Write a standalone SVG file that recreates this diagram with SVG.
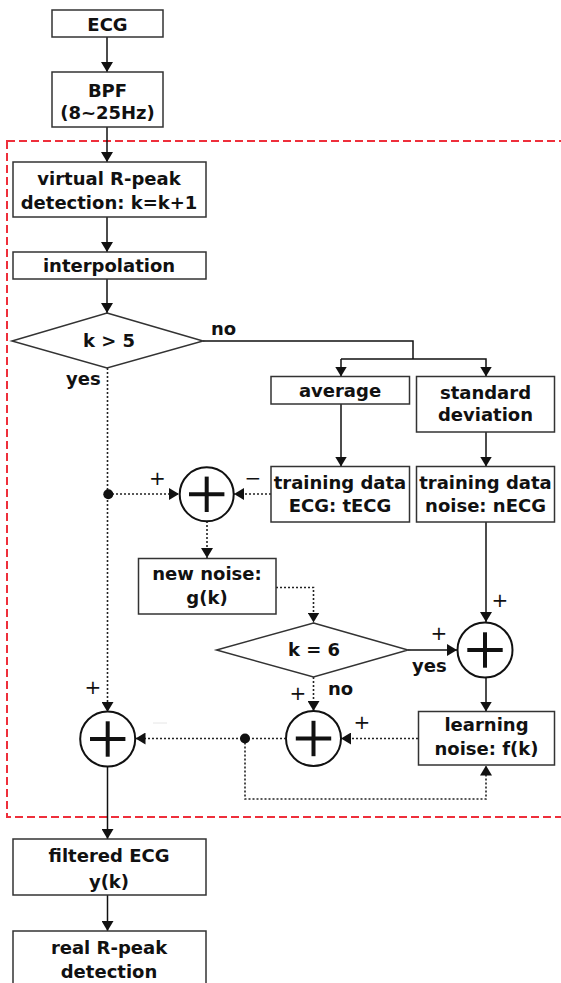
<svg xmlns="http://www.w3.org/2000/svg" width="561" height="983" viewBox="0 0 561 983">
<style>
.box{fill:#fff;stroke:#333;stroke-width:1.5}
.t{font-family:"DejaVu Sans",Verdana,sans-serif;font-weight:bold;font-size:18px;fill:#111;text-anchor:middle}
.lbl{font-family:"DejaVu Sans",Verdana,sans-serif;font-weight:bold;font-size:18px;fill:#111}
.pm{font-family:"DejaVu Sans",sans-serif;font-size:20px;fill:#111;text-anchor:middle}
.sol{fill:none;stroke:#111;stroke-width:1.5}
.dot{fill:none;stroke:#222;stroke-width:1.6;stroke-dasharray:2 2}
.sum{fill:#fff;stroke:#111;stroke-width:2}
.plus{stroke:#111;stroke-width:4}
</style>
<defs>
<marker id="ah" viewBox="0 0 10 12" refX="10" refY="6" markerWidth="10" markerHeight="12" markerUnits="userSpaceOnUse" orient="auto">
<path d="M0,0 L10,6 L0,12 z" fill="#111"/>
</marker>
</defs>
<rect x="7" y="141" width="570" height="676" fill="none" stroke="#ee2f3b" stroke-width="2" stroke-dasharray="8 4"/>
<g id="connectors">
<line class="sol" x1="107" y1="37" x2="107" y2="72" marker-end="url(#ah)"/>
<line class="sol" x1="107" y1="127" x2="107" y2="162" marker-end="url(#ah)"/>
<line class="sol" x1="107" y1="217" x2="107" y2="252" marker-end="url(#ah)"/>
<line class="sol" x1="107" y1="279" x2="107" y2="313" marker-end="url(#ah)"/>
<polyline class="sol" points="203,341 413,341 413,359"/>
<polyline class="sol" points="341,359 486,359 486,376.5" marker-end="url(#ah)"/>
<line class="sol" x1="341" y1="359" x2="341" y2="376.5" marker-end="url(#ah)"/>
<line class="sol" x1="341" y1="404" x2="341" y2="466.5" marker-end="url(#ah)"/>
<line class="sol" x1="486" y1="432" x2="486" y2="466.5" marker-end="url(#ah)"/>
<line class="dot" x1="107.5" y1="368" x2="107.5" y2="712" marker-end="url(#ah)"/>
<line class="dot" x1="108" y1="494" x2="179" y2="494" marker-end="url(#ah)"/>
<line class="dot" x1="271" y1="494" x2="234" y2="494" marker-end="url(#ah)"/>
<line class="dot" x1="207" y1="521" x2="207" y2="558" marker-end="url(#ah)"/>
<polyline class="dot" points="276,587.5 313.5,587.5 313.5,622.5" marker-end="url(#ah)"/>
<line class="sol" x1="486" y1="522" x2="486" y2="622" marker-end="url(#ah)"/>
<line class="sol" x1="408" y1="650" x2="457" y2="650" marker-end="url(#ah)"/>
<line class="sol" x1="486" y1="678" x2="486" y2="711.5" marker-end="url(#ah)"/>
<line class="dot" x1="313.5" y1="677" x2="313.5" y2="711" marker-end="url(#ah)"/>
<line class="dot" x1="418" y1="738.5" x2="341" y2="738.5" marker-end="url(#ah)"/>
<line class="dot" x1="286" y1="738.5" x2="135.5" y2="738.5" marker-end="url(#ah)"/>
<polyline class="dot" points="245,738.5 245,799 486,799 486,765.5" marker-end="url(#ah)"/>
<line class="sol" x1="107.5" y1="767" x2="107.5" y2="839" marker-end="url(#ah)"/>
<line class="sol" x1="107.5" y1="895" x2="107.5" y2="931" marker-end="url(#ah)"/>
<circle cx="108.3" cy="494.3" r="5" fill="#111"/>
<circle cx="245" cy="738.5" r="5" fill="#111"/>
<line x1="153" y1="723" x2="167" y2="723" stroke="#e6e6e6" stroke-width="1"/>
</g>
<g id="ecg"><rect class="box" x="52" y="10" width="111" height="27"/><text class="t" x="107.5" y="30.5">ECG</text></g>
<g id="bpf"><rect class="box" x="52" y="72" width="111" height="55"/><text class="t" x="107.5" y="96.5">BPF</text><text class="t" x="107.5" y="118.5">(8~25Hz)</text></g>
<g id="virtual"><rect class="box" x="13" y="162" width="193" height="55"/><text class="t" x="109" y="185">virtual R-peak</text><text class="t" x="109" y="209">detection: k=k+1</text></g>
<g id="interp"><rect class="box" x="13" y="252" width="193" height="27"/><text class="t" x="109" y="271.5">interpolation</text></g>
<g id="k5"><polygon class="box" points="107,313 203,341 107,368 12,341"/><text class="t" x="109" y="347">k &gt; 5</text></g>
<text class="lbl" x="211" y="335">no</text>
<text class="lbl" x="66" y="385">yes</text>
<g id="average"><rect class="box" x="271" y="376.5" width="138.5" height="27.5"/><text class="t" x="340" y="396.5">average</text></g>
<g id="std"><rect class="box" x="416.5" y="376.5" width="138" height="55.5"/><text class="t" x="485.5" y="399">standard</text><text class="t" x="485.5" y="421">deviation</text></g>
<g id="tecg"><rect class="box" x="271" y="466.5" width="138.5" height="55.5"/><text class="t" x="340" y="488.5">training data</text><text class="t" x="340" y="512">ECG: tECG</text></g>
<g id="necg"><rect class="box" x="416.5" y="466.5" width="138" height="55.5"/><text class="t" x="485.5" y="488.5">training data</text><text class="t" x="485.5" y="512">noise: nECG</text></g>
<g id="sum1"><circle class="sum" cx="206.7" cy="494.3" r="27"/><line class="plus" x1="189" y1="494.3" x2="224.4" y2="494.3"/><line class="plus" x1="206.7" y1="476.6" x2="206.7" y2="512"/></g>
<text class="pm" x="157.5" y="485">+</text>
<text class="pm" x="253" y="485">−</text>
<g id="newnoise"><rect class="box" x="138.5" y="558.5" width="137.5" height="55.5"/><text class="t" x="207" y="579.5">new noise:</text><text class="t" x="207" y="604">g(k)</text></g>
<g id="k6"><polygon class="box" points="313.5,623 408,650 313.5,677 216.5,650"/><text class="t" x="314" y="655.5">k = 6</text></g>
<text class="pm" x="439" y="640">+</text>
<text class="lbl" x="412" y="672">yes</text>
<text class="pm" x="500" y="607">+</text>
<text class="pm" x="298" y="700">+</text>
<text class="lbl" x="328" y="695">no</text>
<text class="pm" x="362" y="729">+</text>
<text class="pm" x="93" y="694">+</text>
<g id="sum2"><circle class="sum" cx="485" cy="650" r="27.5"/><line class="plus" x1="467.3" y1="650" x2="502.7" y2="650"/><line class="plus" x1="485" y1="632.3" x2="485" y2="667.7"/></g>
<g id="learning"><rect class="box" x="418.5" y="711.5" width="136" height="53.5"/><text class="t" x="486.5" y="731">learning</text><text class="t" x="486.5" y="755">noise: f(k)</text></g>
<g id="sum3"><circle class="sum" cx="313.5" cy="738.5" r="27.5"/><line class="plus" x1="295.8" y1="738.5" x2="331.2" y2="738.5"/><line class="plus" x1="313.5" y1="720.8" x2="313.5" y2="756.2"/></g>
<g id="sum4"><circle class="sum" cx="107.7" cy="739" r="27.5"/><line class="plus" x1="90" y1="739" x2="125.4" y2="739"/><line class="plus" x1="107.7" y1="721.3" x2="107.7" y2="756.7"/></g>
<g id="filtered"><rect class="box" x="13" y="839" width="193" height="56"/><text class="t" x="109" y="862">filtered ECG</text><text class="t" x="109" y="887.5">y(k)</text></g>
<g id="realr"><rect class="box" x="13" y="931" width="193" height="60"/><text class="t" x="109" y="954">real R-peak</text><text class="t" x="109" y="978">detection</text></g>
</svg>
